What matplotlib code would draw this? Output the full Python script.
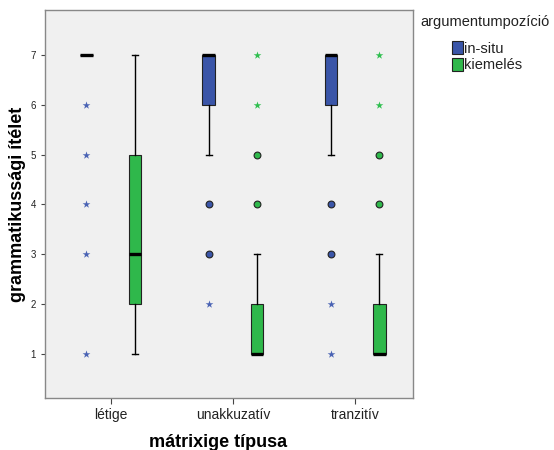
import matplotlib
matplotlib.use("Agg")
import matplotlib.pyplot as plt
from matplotlib.patches import Patch

plt.rcParams["font.family"] = ["Liberation Sans", "DejaVu Sans"]

categories = ["létige", "unakkuzatív", "tranzitív"]
groups = ["in-situ", "kiemelés"]

# box statistics per group, per category
q1 = {"in-situ": [7, 6, 6], "kiemelés": [2, 1, 1]}
med = {"in-situ": [7, 7, 7], "kiemelés": [3, 1, 1]}
q3 = {"in-situ": [7, 7, 7], "kiemelés": [5, 2, 2]}
whislo = {"in-situ": [7, 5, 5], "kiemelés": [1, 1, 1]}
whishi = {"in-situ": [7, 7, 7], "kiemelés": [7, 3, 3]}
# outliers (circles) and extreme values (stars)
circles = {"in-situ": [[], [4, 3], [4, 3]], "kiemelés": [[], [5, 4], [5, 4]]}
stars = {"in-situ": [[6, 5, 4, 3, 1], [2], [2, 1]], "kiemelés": [[], [7, 6], [7, 6]]}

colors = {"in-situ": "#3a55a8", "kiemelés": "#2fb84b"}
star_colors = {"in-situ": "#4a63b4", "kiemelés": "#2fbf4f"}
offsets = {"in-situ": -0.2, "kiemelés": 0.2}

fig = plt.figure(figsize=(5.54, 4.5), dpi=100)
ax = fig.add_axes([45/554, 52/450, 368/554, 388/450])
ax.set_facecolor("#f0f0f0")

for g in groups:
    stats = []
    for i in range(len(categories)):
        stats.append(dict(q1=q1[g][i], med=med[g][i], q3=q3[g][i],
                          whislo=whislo[g][i], whishi=whishi[g][i], fliers=[]))
    pos = [i + offsets[g] for i in range(len(categories))]
    ax.bxp(stats, positions=pos, widths=0.1, patch_artist=True, showfliers=False,
           boxprops=dict(facecolor=colors[g], edgecolor="#222222", linewidth=0.8),
           medianprops=dict(color="black", linewidth=2.4),
           whiskerprops=dict(color="black", linewidth=1.0),
           capprops=dict(color="black", linewidth=1.0), capwidths=0.05)
    for i in range(len(categories)):
        x = i + offsets[g]
        if circles[g][i]:
            ax.scatter([x] * len(circles[g][i]), circles[g][i], s=24, marker="o",
                       facecolor=colors[g], edgecolor="#222222", linewidth=0.8, zorder=5)
        if stars[g][i]:
            ax.scatter([x] * len(stars[g][i]), stars[g][i], s=34, marker="*",
                       color=star_colors[g], linewidth=0, zorder=5)

ax.set_xlim(-0.54, 2.475)
ax.set_ylim(0.12, 7.9)
ax.set_xticks(range(len(categories)))
ax.set_xticklabels(categories, fontsize=10)
ax.set_yticks([1, 2, 3, 4, 5, 6, 7])
ax.tick_params(axis="y", labelsize=7, length=3, colors="#444444")
ax.tick_params(axis="x", length=4, colors="#444444", pad=3)
for lab in ax.get_xticklabels() + ax.get_yticklabels():
    lab.set_color("#222222")
for s in ax.spines.values():
    s.set_color("#888888")
    s.set_linewidth(1.0)

ax.set_ylabel("grammatikussági ítélet", fontsize=13, fontweight="bold", labelpad=3)
ax.set_xlabel("mátrixige típusa", fontsize=13, fontweight="bold", labelpad=6)
ax.xaxis.set_label_coords(0.47, -0.093)

fig.text(420/554, 1 - 22/450, "argumentumpozíció", fontsize=10.5, color="#222222",
         va="center", ha="left")
handles = [Patch(facecolor=colors[g], edgecolor="#222222", linewidth=0.8) for g in groups]
leg = fig.legend(handles, groups, loc="upper left",
                 bbox_to_anchor=(452/554, 1 - 41/450), frameon=False, fontsize=10.5,
                 handlelength=0.75, handleheight=1.0,
                 handletextpad=0.1, labelspacing=0.15, borderpad=0.0, borderaxespad=0)
for t in leg.get_texts():
    t.set_color("#222222")

fig.savefig("out.png", dpi=100)
